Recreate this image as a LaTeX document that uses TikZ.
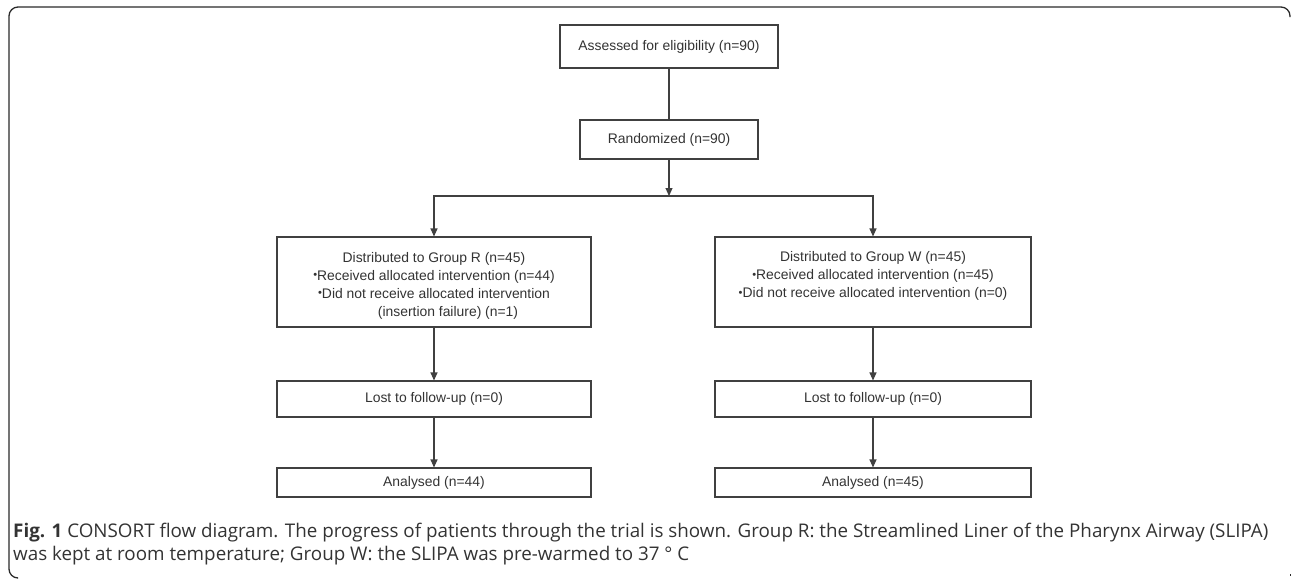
\documentclass[tikz,border=0pt]{standalone}
\usepackage{fontspec}
\setmainfont{Liberation Sans}
\newfontfamily\capfont{Open Sans}
\usetikzlibrary{arrows.meta}
\definecolor{boxgray}{HTML}{404040}
\definecolor{txtgray}{HTML}{333333}
\definecolor{framegray}{HTML}{2A2A2A}
\newcommand{\bul}{\raisebox{0.2ex}{\scalebox{0.8}{\textbullet}}}
\begin{document}
\begin{tikzpicture}[x=1pt,y=-1pt,
  box/.style={draw=boxgray, line width=1.1pt, inner sep=0pt, text=txtgray,
    font=\fontsize{13.9}{18}\selectfont, align=center},
  lbl/.style={inner sep=0pt, text=txtgray, font=\fontsize{13.9}{18}\selectfont, align=center},
  arr/.style={draw=boxgray, line width=1.1pt, -{Triangle[length=8pt,width=7pt]}},
  conn/.style={draw=boxgray, line width=1.1pt}]
\useasboundingbox (0,0) rectangle (1292,579);
% frame
\draw[framegray, line width=1.3pt, rounded corners=9pt]
  (1290,17) -- (1290,7) -- (9,7) -- (9,578) -- (17,578);
\draw[framegray, line width=0.8pt] (1290,574) -- (1290,576);

\node[box, minimum width=218pt, minimum height=43pt] (assess) at (669,46.5)
  {Assessed for eligibility (n=90)};
\node[box, minimum width=178pt, minimum height=39pt] (rand) at (669,139.5)
  {Randomized (n=90)};
\node[box, minimum width=314pt, minimum height=90pt,
  label={[lbl, yshift=-3.5pt]center:{Distributed to Group R (n=45)\\
   \bul Received allocated intervention (n=44)\\
   \bul Did not receive allocated intervention\\
   \hspace*{28pt}(insertion failure) (n=1)}}] (grpR) at (434,282) {};
\node[box, minimum width=316pt, minimum height=90pt,
  label={[lbl, anchor=north, yshift=-15pt]north:{Distributed to Group W (n=45)\\
   \bul Received allocated intervention (n=45)\\
   \bul Did not receive allocated intervention (n=0)}}] (grpW) at (873,282) {};
\node[box, minimum width=314pt, minimum height=36pt] (lostR) at (434,399)
  {Lost to follow-up (n=0)};
\node[box, minimum width=316pt, minimum height=36pt] (lostW) at (873,399)
  {Lost to follow-up (n=0)};
\node[box, minimum width=314pt, minimum height=29pt] (anaR) at (434,482.5)
  {Analysed (n=44)};
\node[box, minimum width=316pt, minimum height=29pt] (anaW) at (873,482.5)
  {Analysed (n=45)};

\coordinate (J) at (669,196);
\draw[conn] (assess) -- (rand);
\draw[arr] (rand) -- (J);
\draw[arr] (J) -| (grpR.north);
\draw[arr] (J) -| (grpW.north);
\draw[arr] (grpR) -- (lostR);
\draw[arr] (grpW) -- (lostW);
\draw[arr] (lostR) -- (anaR);
\draw[arr] (lostW) -- (anaW);

\node[anchor=base west, inner sep=0pt, text=txtgray, font=\capfont\fontsize{18.8}{23}\selectfont] (cap) at (13,537.5)
  {\begin{tabular}[t]{@{}l@{}}
  {\bfseries Fig. 1} CONSORT flow diagram. The progress of patients through the trial is shown. Group R: the Streamlined Liner of the Pharynx Airway (SLIPA)\\
  was kept at room temperature; Group W: the SLIPA was pre-warmed to 37 ° C
  \end{tabular}};
\end{tikzpicture}
\end{document}
